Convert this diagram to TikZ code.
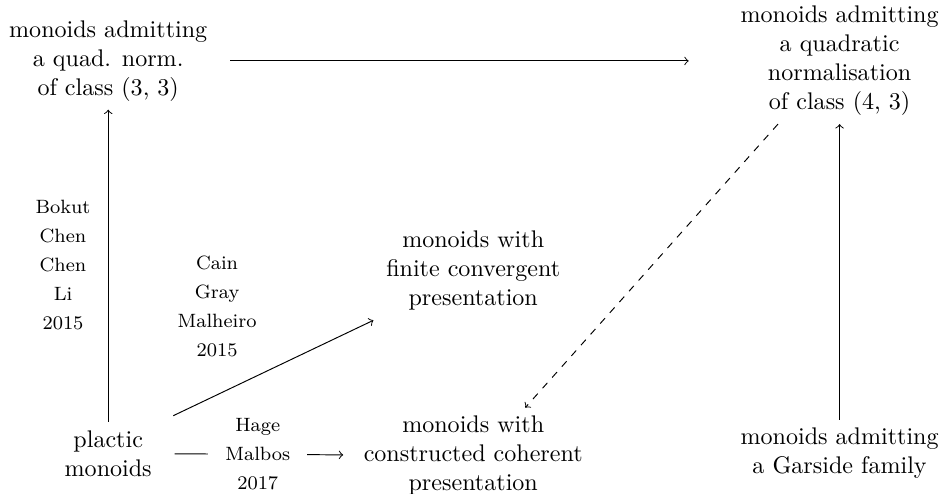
\documentclass[tikz,border=0pt]{standalone}
\usepackage{amsmath}
\usetikzlibrary{calc}
\tikzset {
    class/.style = {align = center},
    authors/.style = {
        align = center,
        font = {\footnotesize\setlength{\baselineskip}{12pt}}
    },
    implies/.style = {->},
    conj/.style = {->, dashed},
    %
    on arrow/.style = {midway, fill = white, inner xsep = 7pt}
}
\begin{document}
\begin{tikzpicture}
    \useasboundingbox (0, 0) rectangle (13.77, 7.20);
    \node (quadthree) [class] at (1.58, 6.31) {monoids admitting\\a quad. norm.\\of class (3, 3)};
    \node (quadfour) [class] at (12.26, 6.31) {monoids admitting\\a quadratic\\normalisation\\of class (4, 3)};
    \node (fcrs) [class] at (6.91, 3.255) {monoids with\\finite convergent\\presentation};
    \node (plactic) [class] at (1.58, 0.58) {plactic\\monoids};
    \node (coherent) [class] at (6.91, 0.545) {monoids with\\constructed coherent\\presentation};
    \node (garside) [class] at (12.26, 0.58) {monoids admitting\\a Garside family};
    \draw [implies] (plactic) -- (quadthree);
    \draw [implies] (garside) -- (quadfour);
    \draw [implies, shorten < = 6pt, shorten > = 18pt] (quadthree) -- (quadfour);
    \draw [implies, shorten < = 6pt, shorten > = 2pt] (plactic.north east) -- (fcrs.south west);
    \draw [implies, shorten < = 6pt, shorten > = 5pt] (plactic) -- (coherent)
        node [authors, on arrow] {Hage\\Malbos\\2017};
    \draw [conj] ([xshift = -0.9cm]quadfour.south) -- ([xshift = 0.76cm]coherent.north);
    \node (bokut) [authors] at (0.92, 3.33) {Bokut\\Chen\\Chen\\Li\\2015};
    \node (cain) [authors] at (3.17, 2.73) {Cain\\Gray\\Malheiro\\2015};
\end{tikzpicture}
\end{document}
